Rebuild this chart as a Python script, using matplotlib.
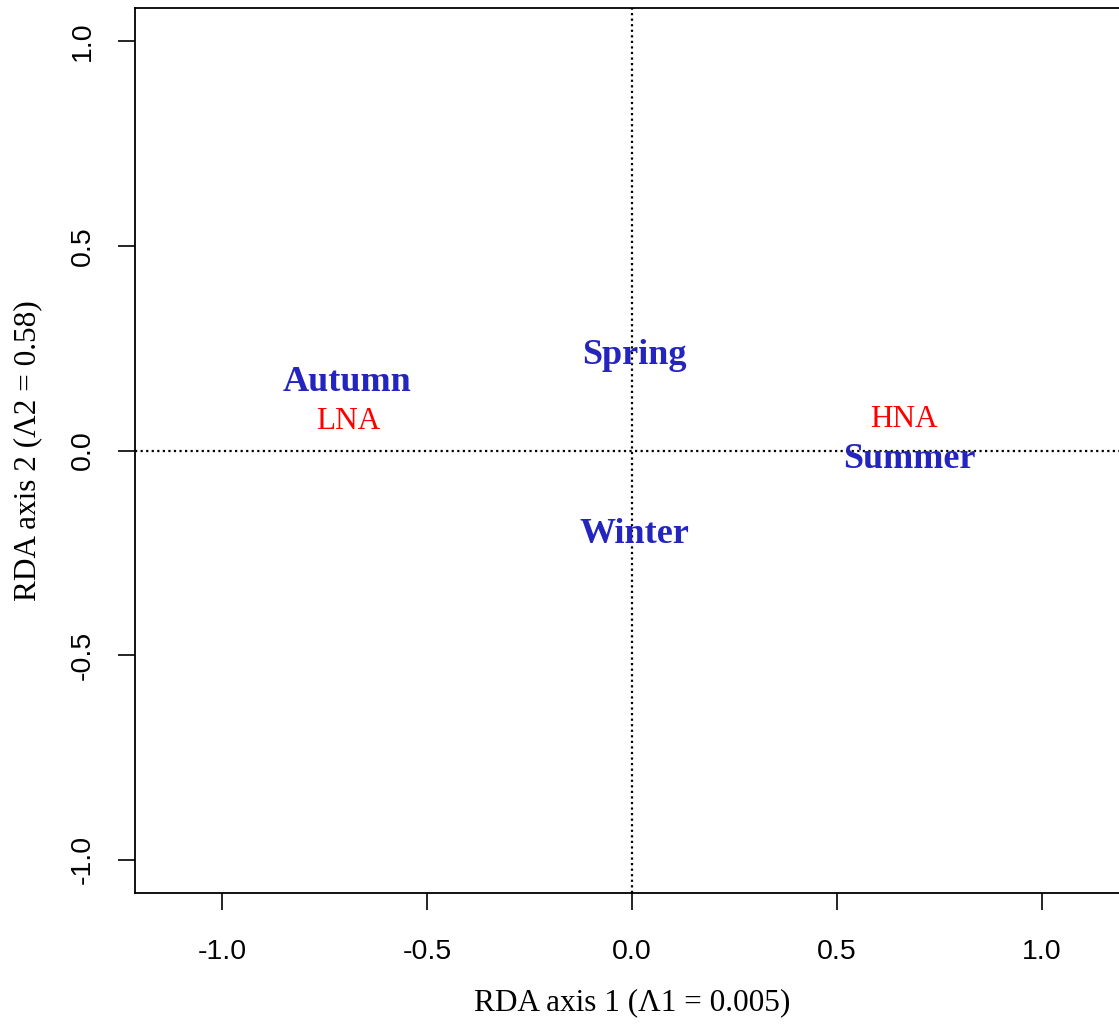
import matplotlib.pyplot as plt

# site scores (environmental / season labels)
seasons = ["Spring", "Autumn", "Summer", "Winter"]
season_x = [0.007, -0.695, 0.676, 0.005]
season_y = [0.233, 0.165, -0.023, -0.204]

groups = ["LNA", "HNA"]
group_x = [-0.693, 0.663]
group_y = [0.07, 0.075]

xticks = [-1.0, -0.5, 0.0, 0.5, 1.0]
yticks = [-1.0, -0.5, 0.0, 0.5, 1.0]

fig = plt.figure(figsize=(11.19, 10.28), dpi=100)
# plot region runs a bit past the right edge of the picture
ax = fig.add_axes([135/1119, 135/1028, 994/1119, 885/1028])
ax.set_xlim(-1.212, 1.212)
ax.set_ylim(-1.081, 1.081)

ax.axhline(0, color="black", linestyle=(0, (1, 1.5)), linewidth=1.6)
ax.axvline(0, color="black", linestyle=(0, (1, 1.5)), linewidth=1.6)

for s, x, y in zip(seasons, season_x, season_y):
    ax.text(x, y, s, color="#2424BE", fontsize=26, fontweight="bold",
            family="Liberation Serif", ha="center", va="center")
for g, x, y in zip(groups, group_x, group_y):
    ax.text(x, y, g, color="#FF0000", fontsize=22.5,
            family="Liberation Serif", ha="center", va="center")

ax.set_xticks(xticks)
ax.set_yticks(yticks)
ax.set_xticklabels(["%.1f" % t for t in xticks], family="Liberation Sans", fontsize=20.5)
ax.set_yticklabels(["%.1f" % t for t in yticks], family="Liberation Sans", fontsize=20.5,
                   rotation=90, va="center")
ax.tick_params(axis="x", length=12, width=1.2, pad=21)
ax.tick_params(axis="y", length=12, width=1.2, pad=16)
for sp in ax.spines.values():
    sp.set_linewidth(1.3)

ax.set_xlabel("RDA axis 1 (\u039b1 = 0.005)", family="Liberation Serif", fontsize=22.5, labelpad=17)
ax.set_ylabel("RDA axis 2 (\u039b2 = 0.58)", family="Liberation Serif", fontsize=22.5, labelpad=20)

fig.savefig("out.png", dpi=100)
